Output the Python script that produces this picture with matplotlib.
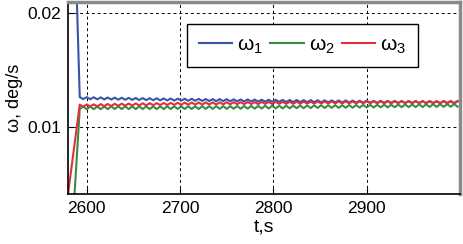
import numpy as np
import matplotlib
matplotlib.use("Agg")
import matplotlib.pyplot as plt

plt.rcParams['font.family'] = ['Liberation Sans', 'DejaVu Sans']
plt.rcParams['mathtext.fontset'] = 'custom'
plt.rcParams['mathtext.rm'] = 'Liberation Sans'
plt.rcParams['mathtext.it'] = 'Liberation Sans'

# ---- data (angular rates in 1e-3 deg/s) ----
x_ticks = [2600, 2700, 2800, 2900]
y_ticks = [0.01, 0.02]
y_tick_labels = ["0.01", "0.02"]
labels = ["ω$_1$", "ω$_2$", "ω$_3$"]

# initial transient points (time, value)
w1_start_t = [2585.0, 2589.5]
w1_start_v = [26.0, 21.0]
w2_start_t = [2586.5]
w2_start_v = [3.5]
w3_start_t = [2579.0]
w3_start_v = [3.5]

# oscillating part: samples every half period starting at 2592.5 s
t_osc_start = 2592.5
t_osc_step = 3.75

w1_osc = [12.63, 12.45, 12.62, 12.44, 12.61, 12.43, 12.60, 12.42, 12.59, 12.41,
          12.58, 12.40, 12.57, 12.39, 12.56, 12.38, 12.55, 12.37, 12.54, 12.36,
          12.53, 12.35, 12.52, 12.34, 12.51, 12.33, 12.50, 12.32, 12.49, 12.31,
          12.48, 12.30, 12.48, 12.30, 12.47, 12.29, 12.46, 12.28, 12.45, 12.27,
          12.45, 12.27, 12.44, 12.26, 12.43, 12.25, 12.42, 12.24, 12.42, 12.24,
          12.41, 12.23, 12.40, 12.22, 12.39, 12.21, 12.39, 12.21, 12.38, 12.20,
          12.37, 12.19, 12.37, 12.19, 12.36, 12.18, 12.36, 12.18, 12.35, 12.17,
          12.34, 12.16, 12.34, 12.16, 12.33, 12.15, 12.33, 12.15, 12.32, 12.14,
          12.31, 12.13, 12.31, 12.13, 12.30, 12.12, 12.30, 12.12, 12.29, 12.11,
          12.29, 12.11, 12.28, 12.10, 12.28, 12.10, 12.27, 12.09, 12.27, 12.09,
          12.27, 12.09, 12.26, 12.08, 12.26, 12.08, 12.25, 12.07, 12.25]

w2_osc = [11.56, 11.80, 11.56, 11.80, 11.56, 11.80, 11.56, 11.80, 11.56, 11.81,
          11.57, 11.81, 11.57, 11.81, 11.57, 11.81, 11.57, 11.81, 11.57, 11.81,
          11.57, 11.81, 11.57, 11.81, 11.57, 11.82, 11.58, 11.82, 11.58, 11.82,
          11.58, 11.82, 11.58, 11.82, 11.58, 11.83, 11.59, 11.83, 11.59, 11.83,
          11.59, 11.83, 11.59, 11.83, 11.60, 11.84, 11.60, 11.84, 11.61, 11.85,
          11.61, 11.85, 11.62, 11.86, 11.62, 11.86, 11.63, 11.87, 11.63, 11.87,
          11.64, 11.88, 11.65, 11.89, 11.65, 11.89, 11.66, 11.90, 11.67, 11.91,
          11.67, 11.91, 11.68, 11.92, 11.68, 11.92, 11.69, 11.93, 11.69, 11.93,
          11.70, 11.94, 11.71, 11.95, 11.71, 11.95, 11.72, 11.96, 11.72, 11.96,
          11.73, 11.97, 11.74, 11.98, 11.74, 11.98, 11.75, 11.99, 11.75, 11.99,
          11.76, 12.00, 11.76, 12.00, 11.77, 12.01, 11.77, 12.01, 11.78]

w3_osc = [11.96, 11.78, 11.98, 11.80, 11.99, 11.81, 12.01, 11.83, 12.02, 11.84,
          12.04, 11.86, 12.05, 11.87, 12.06, 11.88, 12.07, 11.89, 12.08, 11.90,
          12.09, 11.91, 12.10, 11.92, 12.11, 11.93, 12.12, 11.94, 12.13, 11.95,
          12.14, 11.96, 12.15, 11.97, 12.15, 11.97, 12.16, 11.98, 12.16, 11.98,
          12.17, 11.99, 12.17, 11.99, 12.18, 12.00, 12.18, 12.00, 12.19, 12.01,
          12.19, 12.01, 12.20, 12.02, 12.20, 12.02, 12.21, 12.03, 12.21, 12.03,
          12.22, 12.04, 12.22, 12.04, 12.23, 12.05, 12.23, 12.05, 12.24, 12.06,
          12.24, 12.06, 12.25, 12.07, 12.25, 12.07, 12.25, 12.07, 12.25, 12.07,
          12.26, 12.08, 12.26, 12.08, 12.26, 12.08, 12.26, 12.08, 12.27, 12.09,
          12.27, 12.09, 12.27, 12.09, 12.27, 12.09, 12.28, 12.10, 12.28, 12.10,
          12.28, 12.10, 12.28, 12.10, 12.29, 12.11, 12.29, 12.11, 12.29]

colors = ["#3a55a8", "#3a8c44", "#e0303c"]

t_osc = t_osc_start + t_osc_step * np.arange(len(w1_osc))


def series(start_t, start_v, osc):
    t = np.concatenate([start_t, t_osc])
    v = np.concatenate([start_v, osc]) * 1e-3
    return t, v


fig = plt.figure(figsize=(4.63, 2.44), dpi=100)
ax = fig.add_axes([0.147, 0.205, 0.8465, 0.787])

for (st, sv, osc), c, lab in zip(
        [(w1_start_t, w1_start_v, w1_osc),
         (w2_start_t, w2_start_v, w2_osc),
         (w3_start_t, w3_start_v, w3_osc)], colors, labels):
    t, v = series(st, sv, osc)
    ax.plot(t, v, color=c, lw=1.5, label=lab)

ax.set_xlim(2580, 3000)
ax.set_ylim(0.0041, 0.021)
ax.set_xticks(x_ticks)
ax.set_yticks(y_ticks)
ax.set_yticklabels(y_tick_labels)
ax.tick_params(direction='in', length=4, labelsize=12.5, pad=5)
ax.grid(True, color='black', linestyle=(0, (3, 3)), linewidth=0.7)

for s in ['left', 'bottom']:
    ax.spines[s].set_color('black')
    ax.spines[s].set_linewidth(1.2)
for s in ['top', 'right']:
    ax.spines[s].set_color('#8a8a8a')
    ax.spines[s].set_linewidth(2.5)

ax.set_xlabel("t,s", fontsize=14, labelpad=2)
ax.set_ylabel("ω, deg/s", fontsize=13, labelpad=3)

leg = ax.legend(loc='upper left', bbox_to_anchor=(0.3036, 0.885), ncol=3,
                fontsize=15, handlelength=1.6, handletextpad=0.25,
                columnspacing=0.35, borderpad=0.55, borderaxespad=0,
                fancybox=False, framealpha=1, edgecolor='black')
leg.get_frame().set_linewidth(1.0)

fig.savefig("out.png", dpi=100)
